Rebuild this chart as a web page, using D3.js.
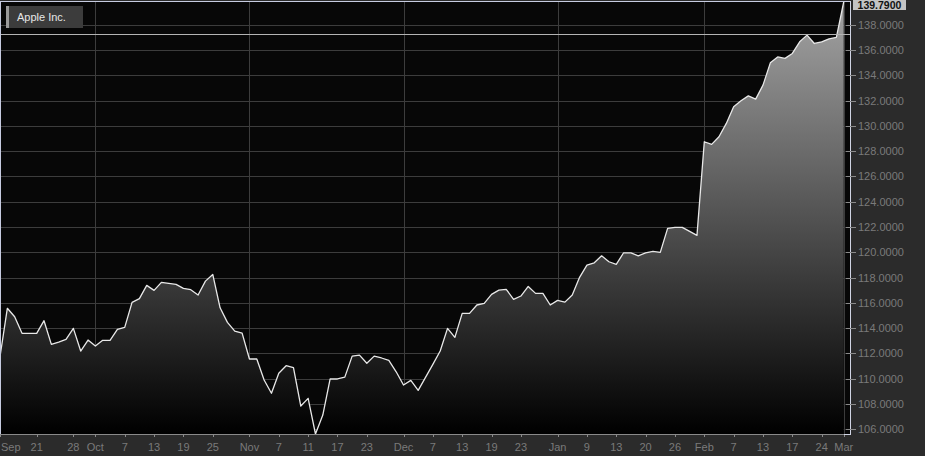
<!DOCTYPE html>
<html><head><meta charset="utf-8">
<script src="https://cdn.jsdelivr.net/npm/d3@7"></script>
<style>
html,body{margin:0;padding:0;background:#2b2b2b;overflow:hidden}
svg{display:block}
text{font-family:"Liberation Sans",Arial,sans-serif}
</style></head>
<body>
<script>
const seriesName = "Apple Inc.";
const values = [
111.74,115.57,114.9,113.59,113.59,113.59,114.59,112.72,112.9,113.11,
113.98,112.19,113.06,112.58,113.04,113.04,113.9,114.06,116.04,116.33,
117.38,116.99,117.62,117.54,117.46,117.15,117.04,116.62,117.72,118.25,
115.61,114.46,113.77,113.61,111.56,111.56,109.9,108.85,110.43,111.03,
110.87,107.84,108.45,105.63,107.13,109.98,109.98,110.13,111.79,111.87,
111.22,111.79,111.64,111.45,110.55,109.5,109.87,109.08,110.11,111.14,
112.19,113.98,113.27,115.17,115.17,115.83,115.96,116.67,117.01,117.07,
116.28,116.54,117.3,116.75,116.75,115.83,116.2,116.06,116.62,118.02,
118.99,119.17,119.72,119.25,119.04,119.96,119.96,119.72,119.96,120.07,
119.99,121.89,121.97,121.97,121.65,121.34,128.74,128.53,129.13,130.19,
131.5,131.98,132.37,132.11,133.22,134.98,135.45,135.33,135.72,136.64,
137.17,136.51,136.64,136.88,136.99,139.79];
const tickLabels = ["Sep","21","28","Oct","7","13","19","25","Nov","7","11","17","23","Dec","7","13","19","23","Jan","9","13","20","26","Feb","7","13","17","24","Mar"];
const tickIndex  = [0,5,10,13,17,21,25,29,34,38,42,46,50,55,59,63,67,71,76,80,84,88,92,96,100,104,108,112,115];
const monthLabels = ["Sep","Oct","Nov","Dec","Jan","Feb","Mar"];
const yTicks = [106,108,110,112,114,116,118,120,122,124,126,128,130,132,134,136,138];
const refLevel = 137.23;

const W = 925, H = 456;
const plot = {left:0, top:2, right:850, bottom:434};

const svg = d3.select("body").append("svg").attr("width",W).attr("height",H);
svg.append("rect").attr("width",W).attr("height",H).attr("fill","#2b2b2b");

const x = d3.scaleLinear().domain([0, values.length-1]).range([plot.left, 843.7]);
const y = d3.scaleLinear().domain([d3.min(values), d3.max(values)]).range([plot.bottom, plot.top]);

const defs = svg.append("defs");
const grad = defs.append("linearGradient").attr("id","fillGrad")
  .attr("gradientUnits","userSpaceOnUse").attr("x1",0).attr("x2",0)
  .attr("y1",plot.top).attr("y2",plot.bottom);
grad.append("stop").attr("offset","0%").attr("stop-color","#a4a4a4");
grad.append("stop").attr("offset","100%").attr("stop-color","#000000");
defs.append("clipPath").attr("id","clip").append("rect")
  .attr("x",plot.left).attr("y",plot.top).attr("width",plot.right-plot.left).attr("height",plot.bottom-plot.top);

// plot background
svg.append("rect").attr("x",plot.left).attr("y",plot.top)
  .attr("width",plot.right-plot.left).attr("height",plot.bottom-plot.top).attr("fill","#070707");

const g = svg.append("g").attr("clip-path","url(#clip)");

// horizontal grid
g.selectAll("line.hg").data(yTicks).join("line").attr("class","hg")
  .attr("x1",plot.left).attr("x2",plot.right)
  .attr("y1",d=>Math.round(y(d))+0.5).attr("y2",d=>Math.round(y(d))+0.5)
  .attr("stroke","#3c3c3c").attr("stroke-width",1);
// vertical grid at month starts
const monthTicks = tickIndex.filter((d,i)=>monthLabels.includes(tickLabels[i]));
g.selectAll("line.vg").data(monthTicks).join("line").attr("class","vg")
  .attr("x1",d=>Math.round(x(d))+0.5).attr("x2",d=>Math.round(x(d))+0.5)
  .attr("y1",plot.top).attr("y2",plot.bottom)
  .attr("stroke","#3c3c3c").attr("stroke-width",1);

// area + line
const area = d3.area().x((d,i)=>x(i)).y0(plot.bottom).y1(d=>y(d));
const line = d3.line().x((d,i)=>x(i)).y(d=>y(d));
g.append("path").datum(values).attr("d",area).attr("fill","url(#fillGrad)");
g.append("path").datum(values).attr("d",line).attr("fill","none")
  .attr("stroke","#e8e8e8").attr("stroke-width",1.3).attr("stroke-linejoin","round");

// reference line
g.append("line").attr("x1",plot.left).attr("x2",plot.right)
  .attr("y1",Math.round(y(refLevel))+0.5).attr("y2",Math.round(y(refLevel))+0.5)
  .attr("stroke","#b4b4b4").attr("stroke-width",1);

// borders
svg.append("line").attr("x1",0).attr("x2",plot.right).attr("y1",1.5).attr("y2",1.5)
  .attr("stroke","#c6cbe0").attr("stroke-width",1);
svg.append("line").attr("x1",0.5).attr("x2",0.5).attr("y1",1).attr("y2",plot.bottom)
  .attr("stroke","#c6cbe0").attr("stroke-width",1);

// x axis
const xAxis = svg.append("g");
xAxis.append("line").attr("x1",0).attr("x2",plot.right).attr("y1",plot.bottom+0.5).attr("y2",plot.bottom+0.5)
  .attr("stroke","#8a8a8a");
xAxis.selectAll("line.xt").data(tickIndex).join("line").attr("class","xt")
  .attr("x1",d=>Math.round(x(d))+0.5).attr("x2",d=>Math.round(x(d))+0.5)
  .attr("y1",plot.bottom).attr("y2",plot.bottom+3).attr("stroke","#8a8a8a");
xAxis.selectAll("text").data(tickIndex).join("text")
  .attr("x",(d,i)=> i===0 ? 1 : x(d))
  .attr("y",451)
  .attr("text-anchor",(d,i)=> i===0 ? "start" : "middle")
  .attr("font-size",11).attr("fill","#7a7a7a")
  .text((d,i)=>tickLabels[i]);

// y axis (right)
const yAxis = svg.append("g");
yAxis.append("line").attr("x1",plot.right+0.5).attr("x2",plot.right+0.5).attr("y1",1).attr("y2",plot.bottom+1)
  .attr("stroke","#d0d4e4");
yAxis.append("line").attr("x1",plot.right-6).attr("x2",plot.right+1).attr("y1",plot.bottom+0.5).attr("y2",plot.bottom+0.5)
  .attr("stroke","#d0d4e4");
yAxis.selectAll("line.yt").data(yTicks).join("line").attr("class","yt")
  .attr("x1",plot.right-4).attr("x2",plot.right+6)
  .attr("y1",d=>Math.round(y(d))+0.5).attr("y2",d=>Math.round(y(d))+0.5)
  .attr("stroke","#8a8a8a");
yAxis.selectAll("text").data(yTicks).join("text")
  .attr("x",858).attr("y",d=>y(d)+4)
  .attr("font-size",11).attr("fill","#7a7a7a")
  .text(d=>d3.format(".4f")(d));

// current value badge
const last = values[values.length-1];
svg.append("rect").attr("x",853).attr("y",0).attr("width",53).attr("height",10)
  .attr("fill","#c4c4c4");
svg.append("text").attr("x",879.5).attr("y",8.5).attr("text-anchor","middle")
  .attr("font-size",10.5).attr("font-weight","bold").attr("fill","#111")
  .text(d3.format(".4f")(last));

// legend
const lg = svg.append("g");
lg.append("rect").attr("x",6).attr("y",6).attr("width",77).attr("height",22).attr("fill","#3c3c3c");
lg.append("rect").attr("x",6).attr("y",6).attr("width",3).attr("height",22).attr("fill","#9a9a9a");
lg.append("text").attr("x",17).attr("y",21).attr("font-size",11).attr("fill","#e6e6e6").text(seriesName);
</script>
</body></html>
